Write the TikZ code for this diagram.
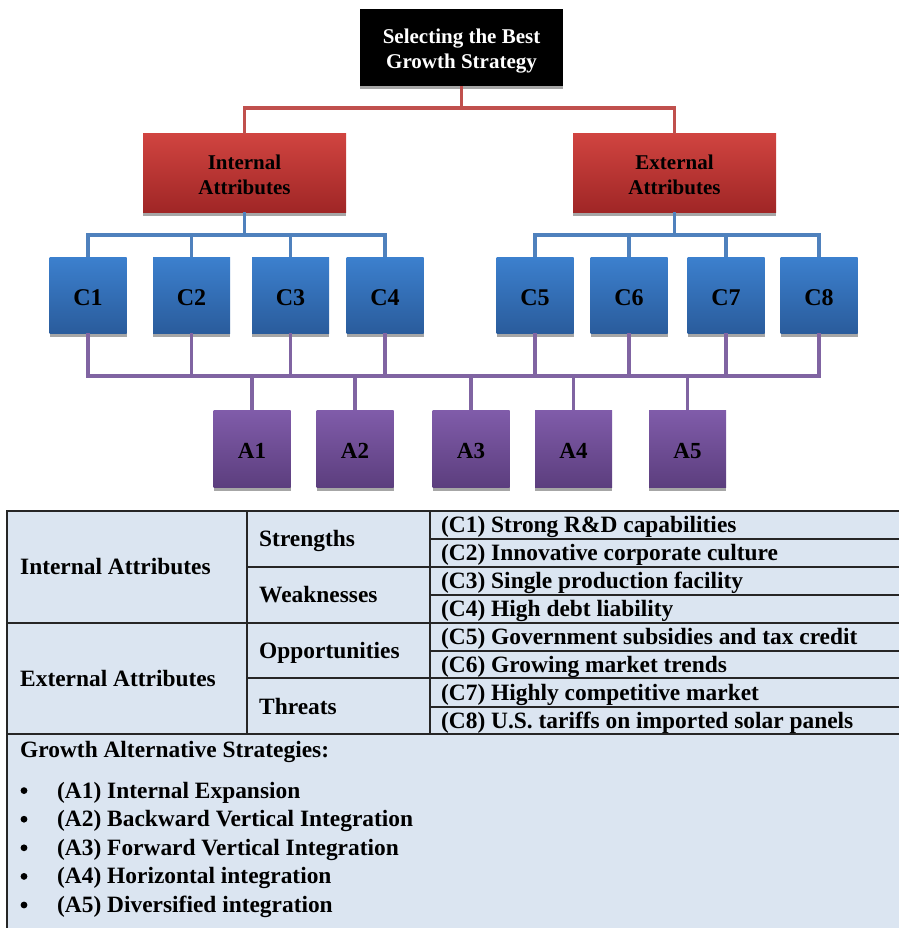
\documentclass[tikz,border=0pt]{standalone}
\usepackage{fontspec}
\setmainfont{Liberation Serif}
\usetikzlibrary{shadows}

\definecolor{redtop}{RGB}{208,68,64}
\definecolor{redbot}{RGB}{160,38,38}
\definecolor{redline}{RGB}{192,80,77}
\definecolor{bluetop}{RGB}{60,128,206}
\definecolor{bluebot}{RGB}{42,92,156}
\definecolor{blueline}{RGB}{79,129,189}
\definecolor{purptop}{RGB}{128,92,170}
\definecolor{purpbot}{RGB}{92,62,126}
\definecolor{purpline}{RGB}{128,100,162}
\definecolor{tabfill}{RGB}{219,229,241}

\tikzset{
  boxshadow/.style={drop shadow={shadow xshift=0pt,shadow yshift=-3.5pt,fill=black!35,opacity=1}},
  boxtext/.style={align=center,inner sep=0pt,font=\fontsize{21}{25}\selectfont\bfseries},
  goalbox/.style={fill=black,minimum width=203pt,minimum height=77pt,boxshadow},
  attrbox/.style={top color=redtop,bottom color=redbot,minimum width=203pt,minimum height=78pt,boxshadow},
  critbox/.style={top color=bluetop,bottom color=bluebot,minimum width=77pt,minimum height=76pt,
    font=\fontsize{24}{28}\selectfont\bfseries,text height=20.2pt,text depth=0pt,boxshadow},
  altbox/.style={top color=purptop,bottom color=purpbot,minimum width=77pt,minimum height=77pt,
    font=\fontsize{23}{27}\selectfont\bfseries,text height=20.6pt,text depth=0pt,boxshadow},
  link/.style={line width=3.6pt},
  celltext/.style={anchor=west,inner sep=0pt,font=\fontsize{23.4}{28}\selectfont\bfseries,
    text height=17.5pt,text depth=2.5pt},
  tabrule/.style={line width=1.4pt,black!85}
}

\begin{document}
\begin{tikzpicture}[x=1pt,y=-1pt,line join=miter]
\useasboundingbox (0,0) rectangle (899,928);

% hierarchy
\node[goalbox,label={[boxtext,text=white,yshift=-4pt]center:Selecting the Best\\Growth Strategy}]
  (goal) at (461.5,47.5) {};
\node[attrbox,label={[boxtext,yshift=-2pt]center:Internal\\Attributes}] (int) at (244.5,173) {};
\node[attrbox,label={[boxtext,yshift=-2pt]center:External\\Attributes}] (ext) at (674.5,173) {};
\foreach \x [count=\i] in {88,191.5,290.5,385,535,629,726,819}
  \node[critbox] (c\i) at (\x,295) {C\i};
\foreach \x [count=\i] in {252,355,471,573.5,687.5}
  \node[altbox] (a\i) at (\x,448.5) {A\i};

\coordinate (redbus) at (0,108);
\coordinate (bluebus) at (0,235);
\coordinate (altbus) at (0,376);

\draw[link,redline] (goal.south) -- (goal.south|-redbus) -| (int.north);
\draw[link,redline] (goal.south) -- (goal.south|-redbus) -| (ext.north);
\foreach \i in {1,...,4}
  \draw[link,blueline] (int.south) -- (int.south|-bluebus) -| (c\i.north);
\foreach \i in {5,...,8}
  \draw[link,blueline] (ext.south) -- (ext.south|-bluebus) -| (c\i.north);
\foreach \i in {1,...,8}
  \foreach \j in {1,...,5}
    \draw[link,purpline] (c\i.south) -- (c\i.south|-altbus) -| (a\j.north);

% table
\fill[tabfill] (7,511) rectangle (899,928);
\draw[tabrule] (7,928) -- (7,511) -- (899,511);
\draw[tabrule] (7,623) -- (899,623);
\draw[tabrule] (7,734) -- (899,734);
\draw[tabrule] (247,567) -- (899,567);
\draw[tabrule] (247,678) -- (899,678);
\foreach \y in {539,595,651,707}
  \draw[tabrule] (430,\y) -- (899,\y);
\draw[tabrule] (247,511) -- (247,734);
\draw[tabrule] (430,511) -- (430,734);

\node[celltext] (tint) at (20,567) {Internal Attributes};
\node[celltext] (text) at (20,679) {External Attributes};
\node[celltext] (tstr) at (259,539) {Strengths};
\node[celltext] (twea) at (259,595) {Weaknesses};
\node[celltext] (topp) at (259,651) {Opportunities};
\node[celltext] (tthr) at (259,707) {Threats};
\foreach \t [count=\i] in {Strong R\&D capabilities,Innovative corporate culture,
    Single production facility,High debt liability,Government subsidies and tax credit,
    Growing market trends,Highly competitive market,U.S. tariffs on imported solar panels}
  \node[celltext] (tc\i) at (441,511+28*\i-14) {(C\i) \t};

\node[celltext] (tgrow) at (20,750) {Growth Alternative Strategies:};
\foreach \t [count=\i] in {Internal Expansion,Backward Vertical Integration,
    Forward Vertical Integration,Horizontal integration,Diversified integration}{
  \fill (24,762+28.6*\i) circle (3.4pt);
  \node[celltext] (ta\i) at (57,762+28.6*\i) {(A\i) \t};
}
\end{tikzpicture}
\end{document}
